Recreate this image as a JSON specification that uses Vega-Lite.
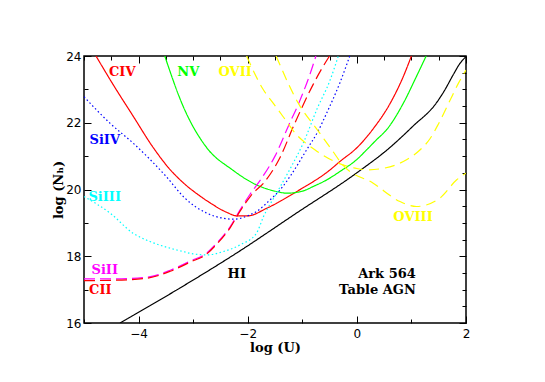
{
  "$schema": "https://vega.github.io/schema/vega-lite/v6.json",
  "width": 382,
  "height": 267,
  "autosize": {"type": "none"},
  "padding": {"left": 84, "top": 56, "right": 79, "bottom": 59},
  "background": "white",
  "config": {
    "view": {"stroke": "#000", "strokeWidth": 1.5},
    "axis": {"domain": false, "grid": false, "tickColor": "#000", "tickWidth": 1, "labelColor": "#000", "titleColor": "#000", "labelFont": "DejaVu Sans", "labelFontSize": 12, "titleFont": "DejaVu Serif", "titleFontWeight": "bold", "titleFontSize": 13}
  },
  "datasets": {
    "curves": [
      {"ion": "HI", "U": -4.34, "N": 16.0}, {"ion": "HI", "U": -3.24, "N": 17.05}, {"ion": "HI", "U": -2.2, "N": 18.1}, {"ion": "HI", "U": -1.1, "N": 19.3}, {"ion": "HI", "U": 0.0, "N": 20.5}, {"ion": "HI", "U": 0.6, "N": 21.25}, {"ion": "HI", "U": 1.03, "N": 21.9}, {"ion": "HI", "U": 1.46, "N": 22.6}, {"ion": "HI", "U": 1.6, "N": 22.95}, {"ion": "HI", "U": 1.77, "N": 23.45}, {"ion": "HI", "U": 1.89, "N": 23.78}, {"ion": "HI", "U": 2.0, "N": 23.98},
      {"ion": "CIV", "U": -4.78, "N": 24.0}, {"ion": "CIV", "U": -4.45, "N": 23.1}, {"ion": "CIV", "U": -4.1, "N": 22.2}, {"ion": "CIV", "U": -3.75, "N": 21.3}, {"ion": "CIV", "U": -3.45, "N": 20.65}, {"ion": "CIV", "U": -3.18, "N": 20.2}, {"ion": "CIV", "U": -2.87, "N": 19.8}, {"ion": "CIV", "U": -2.69, "N": 19.6}, {"ion": "CIV", "U": -2.39, "N": 19.32}, {"ion": "CIV", "U": -2.2, "N": 19.21}, {"ion": "CIV", "U": -2.0, "N": 19.21}, {"ion": "CIV", "U": -1.65, "N": 19.44}, {"ion": "CIV", "U": -1.1, "N": 19.94}, {"ion": "CIV", "U": -0.49, "N": 20.59}, {"ion": "CIV", "U": -0.31, "N": 20.84}, {"ion": "CIV", "U": 0.0, "N": 21.25}, {"ion": "CIV", "U": 0.3, "N": 21.82}, {"ion": "CIV", "U": 0.61, "N": 22.58}, {"ion": "CIV", "U": 0.85, "N": 23.38}, {"ion": "CIV", "U": 1.0, "N": 24.0},
      {"ion": "NV", "U": -3.52, "N": 24.0}, {"ion": "NV", "U": -3.18, "N": 22.48}, {"ion": "NV", "U": -2.75, "N": 21.25}, {"ion": "NV", "U": -2.29, "N": 20.6}, {"ion": "NV", "U": -1.84, "N": 20.14}, {"ion": "NV", "U": -1.47, "N": 19.94}, {"ion": "NV", "U": -1.29, "N": 19.89}, {"ion": "NV", "U": -1.0, "N": 19.95}, {"ion": "NV", "U": -0.8, "N": 20.09}, {"ion": "NV", "U": -0.55, "N": 20.29}, {"ion": "NV", "U": -0.31, "N": 20.54}, {"ion": "NV", "U": 0.0, "N": 20.9}, {"ion": "NV", "U": 0.18, "N": 21.19}, {"ion": "NV", "U": 0.36, "N": 21.49}, {"ion": "NV", "U": 0.55, "N": 21.8}, {"ion": "NV", "U": 0.85, "N": 22.58}, {"ion": "NV", "U": 1.09, "N": 23.38}, {"ion": "NV", "U": 1.27, "N": 24.0},
      {"ion": "SiIV", "U": -5.0, "N": 22.78}, {"ion": "SiIV", "U": -4.52, "N": 21.98}, {"ion": "SiIV", "U": -4.1, "N": 21.39}, {"ion": "SiIV", "U": -3.5, "N": 20.4}, {"ion": "SiIV", "U": -3.15, "N": 19.74}, {"ion": "SiIV", "U": -2.75, "N": 19.29}, {"ion": "SiIV", "U": -2.45, "N": 19.14}, {"ion": "SiIV", "U": -2.26, "N": 19.11}, {"ion": "SiIV", "U": -1.96, "N": 19.24}, {"ion": "SiIV", "U": -1.84, "N": 19.34}, {"ion": "SiIV", "U": -1.59, "N": 19.69}, {"ion": "SiIV", "U": -1.4, "N": 20.0}, {"ion": "SiIV", "U": -1.2, "N": 20.45}, {"ion": "SiIV", "U": -0.92, "N": 21.19}, {"ion": "SiIV", "U": -0.71, "N": 21.75}, {"ion": "SiIV", "U": -0.55, "N": 22.3}, {"ion": "SiIV", "U": -0.31, "N": 23.2}, {"ion": "SiIV", "U": -0.13, "N": 24.0},
      {"ion": "SiIII", "U": -5.0, "N": 19.79}, {"ion": "SiIII", "U": -4.52, "N": 19.29}, {"ion": "SiIII", "U": -4.1, "N": 18.69}, {"ion": "SiIII", "U": -3.79, "N": 18.44}, {"ion": "SiIII", "U": -3.42, "N": 18.24}, {"ion": "SiIII", "U": -3.18, "N": 18.14}, {"ion": "SiIII", "U": -3.0, "N": 18.07}, {"ion": "SiIII", "U": -2.75, "N": 18.04}, {"ion": "SiIII", "U": -2.45, "N": 18.14}, {"ion": "SiIII", "U": -2.14, "N": 18.34}, {"ion": "SiIII", "U": -1.84, "N": 18.69}, {"ion": "SiIII", "U": -1.71, "N": 19.19}, {"ion": "SiIII", "U": -1.45, "N": 19.95}, {"ion": "SiIII", "U": -1.2, "N": 20.69}, {"ion": "SiIII", "U": -0.98, "N": 21.4}, {"ion": "SiIII", "U": -0.72, "N": 22.45}, {"ion": "SiIII", "U": -0.49, "N": 23.28}, {"ion": "SiIII", "U": -0.34, "N": 24.0},
      {"ion": "SiII", "U": -5.0, "N": 17.32}, {"ion": "SiII", "U": -4.46, "N": 17.32}, {"ion": "SiII", "U": -3.85, "N": 17.37}, {"ion": "SiII", "U": -3.42, "N": 17.58}, {"ion": "SiII", "U": -3.06, "N": 17.85}, {"ion": "SiII", "U": -2.75, "N": 18.1}, {"ion": "SiII", "U": -2.57, "N": 18.39}, {"ion": "SiII", "U": -2.32, "N": 18.89}, {"ion": "SiII", "U": -2.14, "N": 19.39}, {"ion": "SiII", "U": -1.96, "N": 19.85}, {"ion": "SiII", "U": -1.74, "N": 20.35}, {"ion": "SiII", "U": -1.5, "N": 21.0}, {"ion": "SiII", "U": -1.25, "N": 21.92}, {"ion": "SiII", "U": -1.04, "N": 22.68}, {"ion": "SiII", "U": -0.86, "N": 23.45}, {"ion": "SiII", "U": -0.75, "N": 24.0},
      {"ion": "CII", "U": -5.0, "N": 17.27}, {"ion": "CII", "U": -4.46, "N": 17.28}, {"ion": "CII", "U": -3.85, "N": 17.34}, {"ion": "CII", "U": -3.42, "N": 17.55}, {"ion": "CII", "U": -3.06, "N": 17.82}, {"ion": "CII", "U": -2.75, "N": 18.07}, {"ion": "CII", "U": -2.57, "N": 18.36}, {"ion": "CII", "U": -2.32, "N": 18.86}, {"ion": "CII", "U": -2.14, "N": 19.35}, {"ion": "CII", "U": -1.94, "N": 19.82}, {"ion": "CII", "U": -1.68, "N": 20.25}, {"ion": "CII", "U": -1.41, "N": 20.95}, {"ion": "CII", "U": -1.16, "N": 21.9}, {"ion": "CII", "U": -0.98, "N": 22.55}, {"ion": "CII", "U": -0.8, "N": 23.15}, {"ion": "CII", "U": -0.65, "N": 23.6}, {"ion": "CII", "U": -0.5, "N": 24.0},
      {"ion": "OVII", "U": -2.02, "N": 24.0}, {"ion": "OVII", "U": -1.71, "N": 22.98}, {"ion": "OVII", "U": -1.53, "N": 22.58}, {"ion": "OVII", "U": -1.35, "N": 22.18}, {"ion": "OVII", "U": -1.13, "N": 21.69}, {"ion": "OVII", "U": -0.77, "N": 21.19}, {"ion": "OVII", "U": -0.34, "N": 20.79}, {"ion": "OVII", "U": 0.0, "N": 20.63}, {"ion": "OVII", "U": 0.2, "N": 20.59}, {"ion": "OVII", "U": 0.5, "N": 20.64}, {"ion": "OVII", "U": 0.91, "N": 20.89}, {"ion": "OVII", "U": 1.16, "N": 21.19}, {"ion": "OVII", "U": 1.34, "N": 21.52}, {"ion": "OVII", "U": 1.5, "N": 21.98}, {"ion": "OVII", "U": 1.71, "N": 22.68}, {"ion": "OVII", "U": 1.86, "N": 23.18}, {"ion": "OVII", "U": 2.0, "N": 23.58},
      {"ion": "OVIII", "U": -1.48, "N": 24.0}, {"ion": "OVIII", "U": -1.05, "N": 22.52}, {"ion": "OVIII", "U": -0.72, "N": 21.78}, {"ion": "OVIII", "U": -0.46, "N": 21.19}, {"ion": "OVIII", "U": -0.25, "N": 20.72}, {"ion": "OVIII", "U": 0.3, "N": 20.19}, {"ion": "OVIII", "U": 0.79, "N": 19.64}, {"ion": "OVIII", "U": 1.09, "N": 19.49}, {"ion": "OVIII", "U": 1.52, "N": 19.74}, {"ion": "OVIII", "U": 1.83, "N": 20.29}, {"ion": "OVIII", "U": 2.0, "N": 20.49}
    ],
    "labels": [
      {"ion": "CIV", "text": "CIV", "U": -4.3, "N": 23.52},
      {"ion": "NV", "text": "NV", "U": -3.09, "N": 23.52},
      {"ion": "OVII", "text": "OVII", "U": -2.23, "N": 23.52},
      {"ion": "SiIV", "text": "SiIV", "U": -4.62, "N": 21.49},
      {"ion": "SiIII", "text": "SiIII", "U": -4.62, "N": 19.79},
      {"ion": "SiII", "text": "SiII", "U": -4.62, "N": 17.59},
      {"ion": "CII", "text": "CII", "U": -4.7, "N": 16.99},
      {"ion": "HI", "text": "HI", "U": -2.2, "N": 17.46},
      {"ion": "OVIII", "text": "OVIII", "U": 1.03, "N": 19.19}
    ],
    "notes": [
      {"text": "Ark 564", "U": 1.08, "N": 17.47},
      {"text": "Table AGN", "U": 1.08, "N": 16.99}
    ]
  },
  "layer": [
    {
      "data": {"name": "curves"},
      "mark": {"type": "line", "strokeWidth": 1.2, "clip": true, "interpolate": "monotone"},
      "encoding": {
        "x": {"field": "U", "type": "quantitative", "scale": {"domain": [-5, 2], "nice": false, "zero": false},
          "axis": {"orient": "bottom", "title": "log (U)", "format": "d", "values": [-5, -4.5, -4, -3.5, -3, -2.5, -2, -1.5, -1, -0.5, 0, 0.5, 1, 1.5, 2],
            "labelExpr": "datum.value % 2 == 0 ? datum.label : ''", "tickSize": {"condition": {"test": "datum.value % 2 == 0", "value": -7}, "value": -4}, "labelPadding": 12, "titlePadding": 2, "labelFlush": false}},
        "y": {"field": "N", "type": "quantitative", "scale": {"domain": [16, 24], "nice": false, "zero": false},
          "axis": {"orient": "left", "title": "log (Nₕ)", "format": "d", "values": [16, 16.5, 17, 17.5, 18, 18.5, 19, 19.5, 20, 20.5, 21, 21.5, 22, 22.5, 23, 23.5, 24],
            "labelExpr": "datum.value % 2 == 0 ? datum.label : ''", "tickSize": {"condition": {"test": "datum.value % 2 == 0", "value": -7}, "value": -4}, "labelPadding": 10, "titlePadding": 0, "labelFlush": false}},
        "color": {"field": "ion", "type": "nominal", "legend": null,
          "scale": {"domain": ["HI", "CIV", "NV", "SiIV", "SiIII", "SiII", "CII", "OVII", "OVIII"],
            "range": ["#000000", "#ff0000", "#00ff00", "#0000ff", "#00ffff", "#ff00ff", "#ff0000", "#ffff00", "#ffff00"]}},
        "strokeDash": {"field": "ion", "type": "nominal", "legend": null,
          "scale": {"domain": ["HI", "CIV", "NV", "SiIV", "SiIII", "SiII", "CII", "OVII", "OVIII"],
            "range": [[1, 0], [1, 0], [1, 0], [1.5, 2.5], [1.5, 2.5], [11, 5], [11, 5], [10, 6], [10, 6]]}}
      }
    },
    {
      "data": {"name": "labels"},
      "mark": {"type": "text", "font": "DejaVu Serif", "fontWeight": "bold", "fontSize": 13, "align": "center", "baseline": "middle"},
      "encoding": {
        "x": {"field": "U", "type": "quantitative",
          "axis": {"orient": "top", "title": null, "labels": false, "values": [-5, -4.5, -4, -3.5, -3, -2.5, -2, -1.5, -1, -0.5, 0, 0.5, 1, 1.5, 2],
            "tickSize": {"condition": {"test": "datum.value % 2 == 0", "value": -7}, "value": -4}}},
        "y": {"field": "N", "type": "quantitative",
          "axis": {"orient": "right", "title": null, "labels": false, "values": [16, 16.5, 17, 17.5, 18, 18.5, 19, 19.5, 20, 20.5, 21, 21.5, 22, 22.5, 23, 23.5, 24],
            "tickSize": {"condition": {"test": "datum.value % 2 == 0", "value": -7}, "value": -4}}},
        "text": {"field": "text", "type": "nominal"},
        "color": {"field": "ion", "type": "nominal", "legend": null}
      }
    },
    {
      "data": {"name": "notes"},
      "mark": {"type": "text", "font": "DejaVu Serif", "fontWeight": "bold", "fontSize": 13, "align": "right", "baseline": "middle", "color": "#000"},
      "encoding": {
        "x": {"field": "U", "type": "quantitative", "axis": null},
        "y": {"field": "N", "type": "quantitative", "axis": null},
        "text": {"field": "text", "type": "nominal"}
      }
    }
  ],
  "resolve": {"axis": {"x": "independent", "y": "independent"}}
}
